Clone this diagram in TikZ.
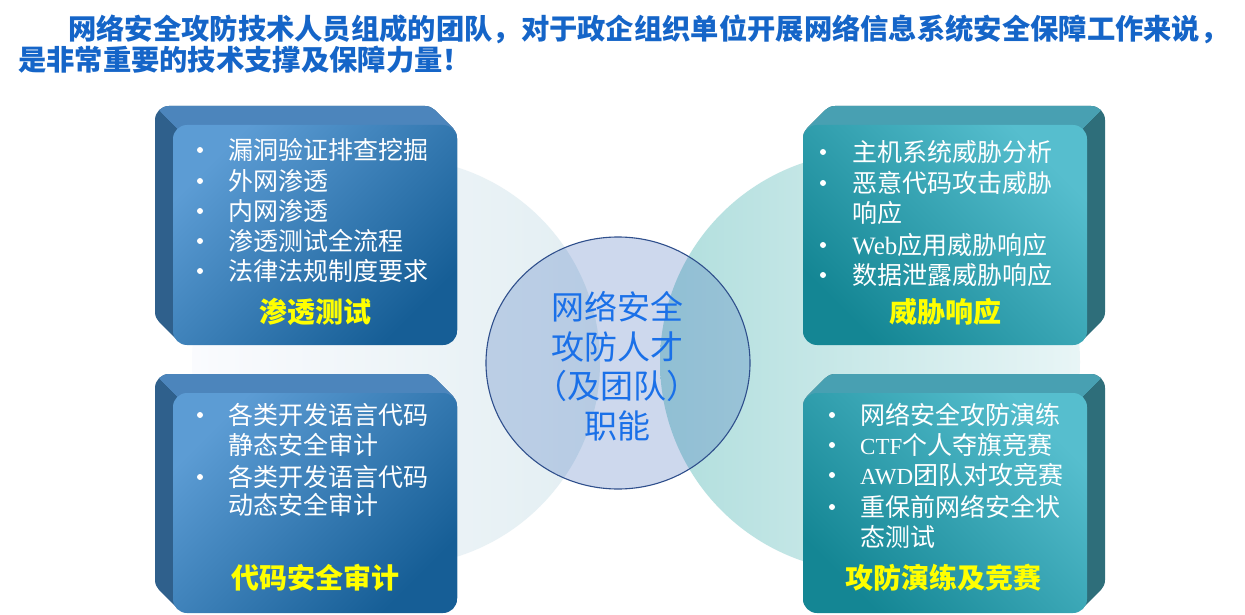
\documentclass[tikz,border=0pt]{standalone}
\usepackage{fontspec}
\usetikzlibrary{shapes.geometric}
\newfontfamily\cjk{Noto Sans CJK SC}
\newfontfamily\lat{Liberation Serif}
\definecolor{hdr}{RGB}{21,101,200}
\definecolor{ctr}{RGB}{26,112,232}
\definecolor{cring}{RGB}{47,79,140}
\definecolor{cfill}{RGB}{40,90,180}
\definecolor{lfl}{RGB}{92,156,212}
\definecolor{lfd}{RGB}{22,94,150}
\definecolor{ltop}{RGB}{76,133,188}
\definecolor{lside}{RGB}{47,96,140}
\definecolor{rfl}{RGB}{86,190,206}
\definecolor{rfd}{RGB}{20,134,148}
\definecolor{rtop}{RGB}{72,160,178}
\definecolor{rside}{RGB}{46,110,122}
\definecolor{bgl1}{RGB}{250,251,254}
\definecolor{bgl2}{RGB}{226,238,242}
\definecolor{bgr1}{RGB}{176,222,221}
\definecolor{bgr2}{RGB}{232,245,246}
\definecolor{ttly}{RGB}{255,255,0}
\tikzset{
  item/.style={anchor=west, inner sep=0pt, text=white, font=\cjk\fontsize{25}{30}\selectfont},
  dot/.style={circle, fill=white, inner sep=0pt, minimum size=6pt},
  ttl/.style={inner sep=0pt, text=ttly, font=\cjk\bfseries\fontsize{28}{34}\selectfont},
  head/.style={anchor=west, inner sep=0pt, text=hdr, font=\cjk\bfseries\fontsize{28.3}{34}\selectfont},
  rr/.style={rounded corners=14pt}
}
\begin{document}
\begin{tikzpicture}[x=1pt,y=-1pt]
\useasboundingbox (0,0) rectangle (1245,615);
\fill[white] (0,0) rectangle (1245,615);
% background circles
\shade[left color=bgl1, right color=bgl2] (396,362) circle[radius=204];
\shade[left color=bgr1, right color=bgr2] (870,362) circle[radius=210];
% ---------- left boxes ----------
\foreach \yb/\yf in {106/125, 374/393}{
  \foreach \i in {0,...,18}{
    \fill[lside, rr] (155+\i,\yb+\i) rectangle (439+\i,\yb+220+\i);
  }
  \begin{scope}
    \clip (105,\yb-50) -- (600,\yb-50) -- (600,\yb+445) -- cycle;
    \foreach \i in {0,...,18}{
      \fill[ltop, rr] (155+\i,\yb+\i) rectangle (439+\i,\yb+220+\i);
    }
  \end{scope}
  \shade[rr, top color=lfl, bottom color=lfd, shading angle=45] (173,\yf) rectangle (457,\yf+220);
}
% ---------- right boxes ----------
\foreach \yb/\yf in {106/125, 374/393}{
  \foreach \i in {0,...,18}{
    \fill[rside, rr] (821-\i,\yb+\i) rectangle (1105-\i,\yb+220+\i);
  }
  \begin{scope}
    \clip (1155,\yb-50) -- (600,\yb-50) -- (600,\yb+505) -- cycle;
    \foreach \i in {0,...,18}{
      \fill[rtop, rr] (821-\i,\yb+\i) rectangle (1105-\i,\yb+220+\i);
    }
  \end{scope}
  \shade[rr, top color=rfl, bottom color=rfd, shading angle=-45] (803,\yf) rectangle (1087,\yf+220);
}
% ---------- central circle ----------
\node[ellipse, minimum width=264pt, minimum height=252pt, fill=cfill, fill opacity=0.23, draw=cring, draw opacity=1, line width=1.1pt] (core) at (618,363) {};
\node[inner sep=0pt, text=ctr, align=center, font=\cjk\fontsize{33}{39.5}\selectfont] (ctext) at (617,366)
  {网络安全\\攻防人才\\（及团队）\\职能};
% ---------- header ----------
\node[head] (h1) at (68,29) {网络安全攻防技术人员组成的团队，对于政企组织单位开展网络信息系统安全保障工作来说，};
\node[head] (h2) at (18,60) {是非常重要的技术支撑及保障力量！};
% ---------- box 1: 渗透测试 ----------
\foreach \n/\y/\t in {a1/150/漏洞验证排查挖掘, a2/181/外网渗透, a3/211/内网渗透, a4/241/渗透测试全流程, a5/271/法律法规制度要求}{
  \node[dot] (d\n) at (200,\y) {};
  \node[item] (t\n) at (228,\y) {\t};
}
\node[ttl] (ta) at (315,312) {渗透测试};
% ---------- box 2: 威胁响应 ----------
\foreach \n/\y in {b1/152, b2/183, b4/245, b5/275}{
  \node[dot] (d\n) at (823,\y) {};
}
\node[item] (tb1) at (852,152) {主机系统威胁分析};
\node[item] (tb2) at (852,183) {恶意代码攻击威胁};
\node[item] (tb3) at (852,213) {响应};
\node[item] (tb4) at (852,245) {{\lat\fontsize{25}{30}\selectfont Web}应用威胁响应};
\node[item] (tb5) at (852,275) {数据泄露威胁响应};
\node[ttl] (tb) at (945,312) {威胁响应};
% ---------- box 3: 代码安全审计 ----------
\foreach \n/\y in {c1/415, c3/477}{
  \node[dot] (d\n) at (200,\y) {};
}
\node[item] (tc1) at (228,415) {各类开发语言代码};
\node[item] (tc2) at (228,445) {静态安全审计};
\node[item] (tc3) at (228,477) {各类开发语言代码};
\node[item] (tc4) at (228,505) {动态安全审计};
\node[ttl] (tc) at (315,578) {代码安全审计};
% ---------- box 4: 攻防演练及竞赛 ----------
\foreach \n/\y in {e1/415, e2/445, e3/475, e4/507}{
  \node[dot] (d\n) at (832,\y) {};
}
\node[item] (te1) at (860,415) {网络安全攻防演练};
\node[item] (te2) at (860,445) {{\lat\fontsize{23}{30}\selectfont CTF}个人夺旗竞赛};
\node[item] (te3) at (860,475) {{\lat\fontsize{23}{30}\selectfont AWD}团队对攻竞赛};
\node[item] (te4) at (860,507) {重保前网络安全状};
\node[item] (te5) at (860,537) {态测试};
\node[ttl] (te) at (943,578) {攻防演练及竞赛};
\end{tikzpicture}
\end{document}
